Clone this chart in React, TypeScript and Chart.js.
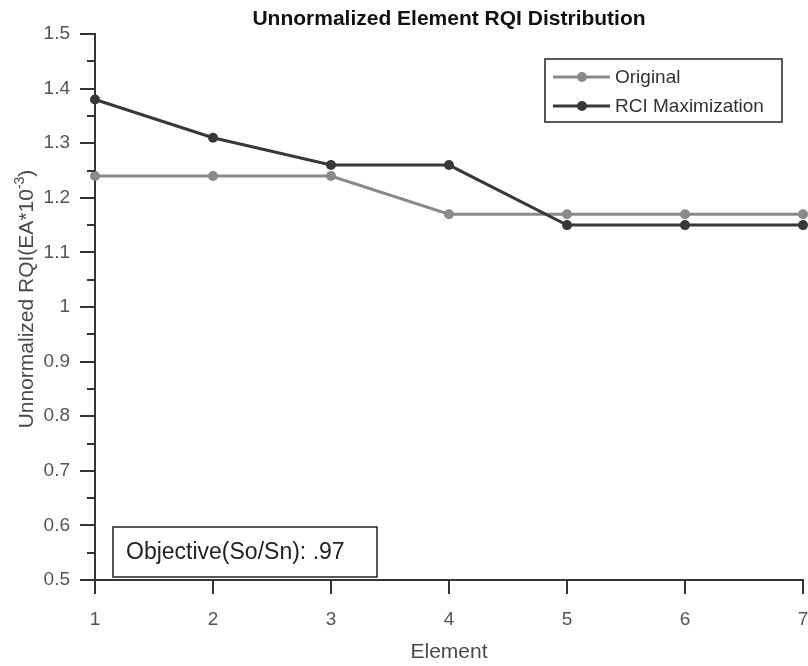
import React, { useEffect, useRef } from "react";
import { Chart, registerables } from "chart.js";

Chart.register(...registerables);

// ---- Data ----
const elements = [1, 2, 3, 4, 5, 6, 7];
const originalValues = [1.24, 1.24, 1.24, 1.17, 1.17, 1.17, 1.17];
const rciValues = [1.38, 1.31, 1.26, 1.26, 1.15, 1.15, 1.15];
const seriesLabels = ["Original", "RCI Maximization"];
const titleText = "Unnormalized Element RQI Distribution";
const xAxisTitle = "Element";
const yAxisTitleMain = "Unnormalized RQI(EA*10";
const yAxisTitleSup = "-3";
const yAxisTitleEnd = ")";
const annotationText = "Objective(So/Sn): .97";
const yMin = 0.5;
const yMax = 1.5;
const yMinorStep = 0.05;
const xMin = 1;
const xMax = 7;

const FONT = '"Liberation Sans", Arial, Helvetica, sans-serif';
const ORIGINAL_COLOR = "#8a8a8a";
const RCI_COLOR = "#383838";
const AXIS_COLOR = "#333333";

const isMajor = (v: number) => Math.abs(Math.round(v * 10) - v * 10) < 1e-6;

const decorPlugin = {
  id: "decor",
  afterDraw(chart: any) {
    const { ctx, chartArea: ca } = chart;
    const ys = chart.scales.y;
    ctx.save();

    // minor y ticks
    ctx.strokeStyle = AXIS_COLOR;
    ctx.lineWidth = 2;
    for (const t of ys.ticks) {
      if (isMajor(t.value)) continue;
      const py = Math.round(ys.getPixelForValue(t.value));
      ctx.beginPath();
      ctx.moveTo(ca.left - 8, py);
      ctx.lineTo(ca.left, py);
      ctx.stroke();
    }

    // title
    ctx.fillStyle = "#111";
    ctx.font = `bold 21px ${FONT}`;
    ctx.textAlign = "center";
    ctx.textBaseline = "middle";
    ctx.fillText(titleText, (ca.left + ca.right) / 2, 19);

    // y axis title (rotated, with superscript)
    ctx.save();
    ctx.translate(0, (ca.top + ca.bottom) / 2 - 8);
    ctx.rotate(-Math.PI / 2);
    ctx.fillStyle = "#4a4a4a";
    ctx.textAlign = "left";
    ctx.textBaseline = "alphabetic";
    const mainFont = `21px ${FONT}`;
    const supFont = `14px ${FONT}`;
    ctx.font = mainFont;
    const wMain = ctx.measureText(yAxisTitleMain).width;
    const wEnd = ctx.measureText(yAxisTitleEnd).width;
    ctx.font = supFont;
    const wSup = ctx.measureText(yAxisTitleSup).width;
    const total = wMain + wSup + wEnd;
    let u = -total / 2;
    const baseV = 33;
    ctx.font = mainFont;
    ctx.fillText(yAxisTitleMain, u, baseV);
    u += wMain;
    ctx.font = supFont;
    ctx.fillText(yAxisTitleSup, u, baseV - 9);
    u += wSup;
    ctx.font = mainFont;
    ctx.fillText(yAxisTitleEnd, u, baseV);
    ctx.restore();

    // legend
    const lx0 = 545, ly0 = 59, lx1 = 782, ly1 = 122;
    ctx.fillStyle = "#fff";
    ctx.fillRect(lx0, ly0, lx1 - lx0, ly1 - ly0);
    ctx.strokeStyle = "#222";
    ctx.lineWidth = 1.5;
    ctx.strokeRect(lx0, ly0, lx1 - lx0, ly1 - ly0);
    const rows = [77, 106];
    chart.data.datasets.forEach((ds: any, i: number) => {
      const ry = rows[i];
      ctx.strokeStyle = ds.borderColor;
      ctx.lineWidth = 3;
      ctx.beginPath();
      ctx.moveTo(553, ry);
      ctx.lineTo(610, ry);
      ctx.stroke();
      ctx.fillStyle = ds.pointBackgroundColor;
      ctx.beginPath();
      ctx.arc(582, ry, 5, 0, Math.PI * 2);
      ctx.fill();
      ctx.fillStyle = "#333";
      ctx.font = `19px ${FONT}`;
      ctx.textAlign = "left";
      ctx.textBaseline = "middle";
      ctx.fillText(ds.label, 615, ry + 1);
    });

    // annotation box
    const ax0 = 113, ay0 = 527, ax1 = 377, ay1 = 577;
    ctx.fillStyle = "#fff";
    ctx.fillRect(ax0, ay0, ax1 - ax0, ay1 - ay0);
    ctx.strokeStyle = "#222";
    ctx.lineWidth = 1.5;
    ctx.strokeRect(ax0, ay0, ax1 - ax0, ay1 - ay0);
    ctx.fillStyle = "#222";
    ctx.font = `23px ${FONT}`;
    ctx.textAlign = "left";
    ctx.textBaseline = "middle";
    ctx.fillText(annotationText, 126, 553);

    ctx.restore();
  },
};

export default function App() {
  const canvasRef = useRef<HTMLCanvasElement | null>(null);

  useEffect(() => {
    if (!canvasRef.current) return;
    Chart.defaults.font.family = FONT;
    const chart = new Chart(canvasRef.current, {
      type: "line",
      data: {
        datasets: [
          {
            label: seriesLabels[0],
            data: elements.map((x, i) => ({ x, y: originalValues[i] })),
            borderColor: ORIGINAL_COLOR,
            backgroundColor: ORIGINAL_COLOR,
            pointBackgroundColor: ORIGINAL_COLOR,
            pointBorderColor: ORIGINAL_COLOR,
            borderWidth: 3,
            pointRadius: 5,
            pointBorderWidth: 0,
            tension: 0,
            clip: false as any,
            order: 2,
          },
          {
            label: seriesLabels[1],
            data: elements.map((x, i) => ({ x, y: rciValues[i] })),
            borderColor: RCI_COLOR,
            backgroundColor: RCI_COLOR,
            pointBackgroundColor: RCI_COLOR,
            pointBorderColor: RCI_COLOR,
            borderWidth: 3,
            pointRadius: 5,
            pointBorderWidth: 0,
            tension: 0,
            clip: false as any,
            order: 1,
          },
        ],
      },
      options: {
        responsive: false,
        animation: false,
        devicePixelRatio: 1,
        layout: { padding: { top: 34, right: 2, bottom: 0, left: 0 } },
        plugins: {
          legend: { display: false },
          title: { display: false },
          tooltip: { enabled: false },
        },
        scales: {
          x: {
            type: "linear",
            min: xMin,
            max: xMax,
            ticks: {
              stepSize: 1,
              color: "#555",
              font: { size: 19, family: FONT },
              padding: 14,
            },
            grid: {
              drawOnChartArea: false,
              tickLength: 14,
              color: AXIS_COLOR,
              lineWidth: 2,
            },
            border: { color: AXIS_COLOR, width: 2 },
            title: {
              display: true,
              text: xAxisTitle,
              color: "#4a4a4a",
              font: { size: 21, family: FONT },
              padding: { top: 0, bottom: 1 },
            },
            afterFit(scale: any) {
              scale.height = 86;
              scale.paddingRight = 0;
            },
          },
          y: {
            type: "linear",
            min: yMin,
            max: yMax,
            ticks: {
              stepSize: yMinorStep,
              autoSkip: false,
              color: "#555",
              font: { size: 19, family: FONT },
              padding: 10,
              callback: (v: any) => {
                const n = Number(v);
                return isMajor(n) ? String(Number(n.toFixed(1))) : "";
              },
            },
            grid: {
              drawOnChartArea: false,
              tickLength: 15,
              lineWidth: 2,
              color: AXIS_COLOR,
              tickColor: (c: any) =>
                c.tick && isMajor(c.tick.value) ? AXIS_COLOR : "rgba(0,0,0,0)",
            },
            border: { color: AXIS_COLOR, width: 2 },
            afterFit(scale: any) {
              scale.width = 95;
            },
          },
        },
      },
      plugins: [decorPlugin],
    });
    return () => chart.destroy();
  }, []);

  return (
    <div
      style={{
        position: "fixed",
        left: 0,
        top: 0,
        width: 808,
        height: 666,
        background: "#fff",
        overflow: "hidden",
      }}
    >
      <canvas ref={canvasRef} width={808} height={666} style={{ display: "block" }} />
    </div>
  );
}
